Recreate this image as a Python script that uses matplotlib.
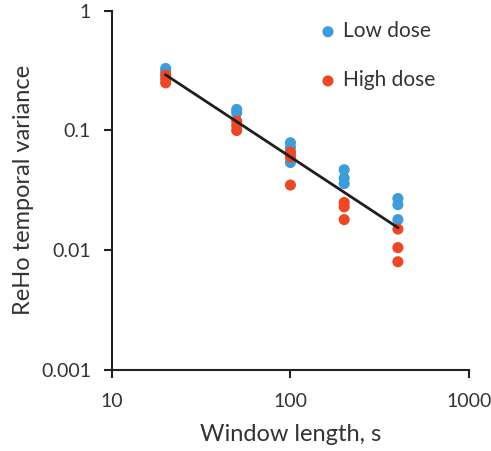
import numpy as np
import matplotlib
matplotlib.use("Agg")
import matplotlib.pyplot as plt

# Dados (janela em s, variância temporal do ReHo)
low_x = [20, 20, 50, 50, 100, 100, 100, 100, 200, 200, 200, 400, 400, 400]
low_y = [0.33, 0.31, 0.15, 0.14, 0.079, 0.072, 0.062, 0.054, 0.047, 0.040, 0.036, 0.027, 0.024, 0.018]
high_x = [20, 20, 20, 50, 50, 50, 100, 100, 100, 200, 200, 200, 400, 400, 400]
high_y = [0.29, 0.27, 0.25, 0.12, 0.11, 0.10, 0.066, 0.060, 0.035, 0.025, 0.023, 0.018, 0.015, 0.0105, 0.008]

x_ticks = [10, 100, 1000]
x_tick_labels = ["10", "100", "1000"]
y_ticks = [0.001, 0.01, 0.1, 1]
y_tick_labels = ["0.001", "0.01", "0.1", "1"]

blue = "#3d9cd9"
red = "#ee4726"
txt = "#333333"

plt.rcParams['font.family'] = ['Lato', 'DejaVu Sans']

fig = plt.figure(figsize=(4.91, 4.51), dpi=100)
ax = fig.add_axes([0.228, 0.18, 0.727, 0.796])

ax.scatter(low_x, low_y, s=64, color=blue, edgecolors='none', label="Low dose", zorder=2)
ax.scatter(high_x, high_y, s=64, color=red, edgecolors='none', label="High dose", zorder=3)

# Ajuste de lei de potência (log-log) em todos os pontos
all_x = np.array(low_x + high_x, dtype=float)
all_y = np.array(low_y + high_y, dtype=float)
coef = np.polyfit(np.log10(all_x), np.log10(all_y), 1)
fit_x = np.array([all_x.min(), all_x.max()])
fit_y = 10 ** np.polyval(coef, np.log10(fit_x))
ax.plot(fit_x, fit_y, color="#1e1e1e", lw=2, zorder=4)

ax.set_xscale('log')
ax.set_yscale('log')
ax.set_xlim(10, 1000)
ax.set_ylim(0.001, 1)
ax.set_xticks(x_ticks)
ax.set_xticklabels(x_tick_labels)
ax.set_yticks(y_ticks)
ax.set_yticklabels(y_tick_labels)
ax.minorticks_off()

for side in ['top', 'right']:
    ax.spines[side].set_visible(False)
for side in ['left', 'bottom']:
    ax.spines[side].set_linewidth(1.5)
    ax.spines[side].set_color("#222222")

ax.tick_params(axis='both', direction='out', length=6, width=1.5, color="#222222",
               labelsize=14, labelcolor=txt)
ax.tick_params(axis='y', pad=9)
ax.tick_params(axis='x', pad=11)

ax.set_xlabel("Window length, s", fontsize=17, color=txt, labelpad=10)
ax.set_ylabel("ReHo temporal variance", fontsize=17, color=txt, labelpad=5)

ax.legend(loc='upper left', bbox_to_anchor=(0.576, 0.971), frameon=False, fontsize=15,
          borderpad=0, borderaxespad=0, labelspacing=1.4, handlelength=1.0,
          handletextpad=0.2, labelcolor=txt)

plt.savefig('out.png', dpi=100)
